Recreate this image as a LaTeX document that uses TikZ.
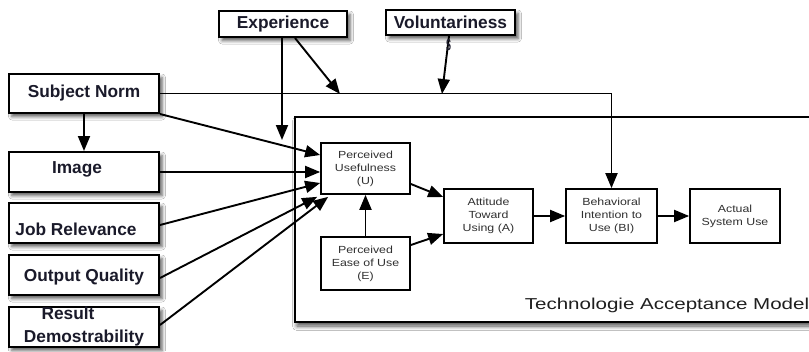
\documentclass[tikz,border=0pt]{standalone}
\usepackage{fontspec}
\setmainfont{Liberation Sans}
\newfontfamily\stretchsans[FakeStretch=1.2]{Liberation Sans}
\newfontfamily\stretchlabel[FakeStretch=1.3]{Liberation Sans}
\usetikzlibrary{arrows.meta,shadows.blur}
\definecolor{textdark}{HTML}{1A1A2A}
\definecolor{innertext}{HTML}{303030}
\begin{document}
\begin{tikzpicture}[x=1pt,y=-1pt,
  outerbox/.style={draw=black, line width=2pt, fill=white, inner sep=0pt,
    text=textdark, font=\fontsize{17.3}{23}\selectfont\bfseries, align=center,
    minimum width=150pt, minimum height=40pt,
    blur shadow={shadow xshift=3pt,shadow yshift=-3.5pt,shadow blur radius=3.5pt,shadow opacity=65}},
  innerbox/.style={draw=black, line width=1.7pt, fill=white, inner sep=0pt,
    text=innertext, font=\stretchsans\fontsize{10.3}{13}\selectfont, align=center,
    minimum width=89pt, minimum height=53pt},
  bigbox/.style={draw=black, line width=2pt, fill=white, inner sep=0pt,
    blur shadow={shadow xshift=2pt,shadow yshift=-4pt,shadow blur radius=4.5pt,shadow opacity=70}},
  conn/.style={line width=1.9pt, -{Triangle[length=15pt,width=12pt]}},
]
\useasboundingbox (0,0) rectangle (809,351);
\fill[white] (0,0) rectangle (809,351);

% big TAM box
\node[bigbox, minimum width=535pt, minimum height=205pt] (tam) at (562.5,219.5) {};
\node[anchor=base, font=\stretchlabel\fontsize{15.8}{18}\selectfont, text=black!88] (tamlabel) at (667,309) {Technologie Acceptance Model};

% inner boxes
\node[innerbox, minimum height=51pt] (pu) at (365.5,168.5) {Perceived\\Usefulness\\(U)};
\node[innerbox] (pe) at (365.5,263.5) {Perceived\\Ease of Use\\(E)};
\node[innerbox, minimum height=54pt] (at) at (488.5,216) {Attitude\\Toward\\Using (A)};
\node[innerbox, minimum width=91pt, minimum height=54pt] (bi) at (611.5,216) {Behavioral\\Intention to\\Use (BI)};
\node[innerbox, minimum width=90pt, minimum height=54pt] (as) at (735,216) {Actual\\System Use};

% outer boxes
\node[outerbox, minimum height=39pt] (sn) at (84,93.5) {Subject Norm};
\node[outerbox] (img) at (84,172) {\raisebox{2.5pt}[\height][\depth]{Image}\hspace*{14pt}};
\node[outerbox] (jr) at (84,223) {\raisebox{-6pt}[\height][\depth]{Job Relevance}\hspace*{16pt}};
\node[outerbox] (oq) at (84,275) {\raisebox{-2pt}[\height][\depth]{Output Quality}};
\node[outerbox] (rd) at (84,327) {Result\hspace*{32pt}\\Demostrability};
\node[outerbox, minimum width=128pt, minimum height=26pt] (exp) at (283,24) {Experience};
\node[outerbox, minimum width=129pt, minimum height=25pt] (vol) at (450.5,22.5) {Voluntariness};

% free ends
\coordinate (expend) at (282,140);
\coordinate (snlineA) at (340,94);
\coordinate (snlineB) at (442,94);

% connectors
\draw[conn] (sn.east) -| (bi.north);
\draw[conn] (exp.south -| expend) -- (expend);
\draw[conn] ([xshift=12pt]exp.south) -- (snlineA);
\draw[conn] ([xshift=-1.5pt]vol.south) -- (snlineB);
\draw[conn] (sn.east |- sn.south) -- ([yshift=13.5pt]pu.west);
\draw[conn] (sn.south) -- (img.north);
\draw[conn] (img.east) -- (img.east -| pu.west);
\draw[conn] ([yshift=-2pt]jr.east) -- ([yshift=-14.5pt]pu.west);
\draw[conn] ([yshift=-3pt]oq.east) -- ([xshift=-3pt,yshift=-2pt]pu.south west);
\draw[conn] ([yshift=2pt]rd.east) -- ([xshift=8pt,yshift=-2pt]pu.south west);
\draw[conn] ([yshift=-15.5pt]pu.east) -- ([yshift=19pt]at.west);
\draw[conn] ([yshift=18.5pt]pe.east) -- ([yshift=-18pt]at.west);
\draw[conn] (pe.north) -- (pu.south);
\draw[conn] (at.east) -- (bi.west);
\draw[conn] (bi.east) -- (as.west);

% stray glyph under Voluntariness
\node[font=\fontsize{12}{12}\selectfont\bfseries, text=textdark, inner sep=0pt] (vols) at (448.5,45) {\scalebox{0.75}[1.7]{s}};
\end{tikzpicture}
\end{document}
